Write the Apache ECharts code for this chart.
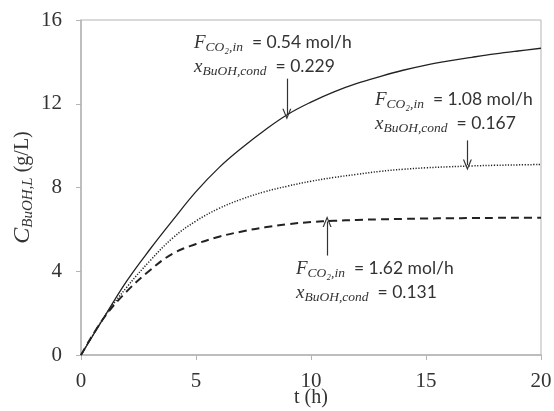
<!DOCTYPE html>
<html>
<head>
<meta charset="utf-8">
<script src="https://cdn.jsdelivr.net/npm/echarts@6/dist/echarts.min.js"></script>
<style>
  html, body { margin: 0; padding: 0; background: #fff; }
  #chart { width: 554px; height: 411px; }
</style>
</head>
<body>
<div id="chart"></div>
<script>
// time (h)
const hours = [0, 1, 2, 3, 4, 5, 6, 7, 8, 9, 10, 11, 12, 13, 14, 15, 16, 17, 18, 19, 20];
// C_BuOH,L (g/L) for each CO2 inlet flow
const conc054 = [0, 1.8, 3.55, 5.05, 6.45, 7.8, 8.95, 9.9, 10.75, 11.5, 12.08, 12.57, 12.97, 13.3, 13.6, 13.85, 14.05, 14.22, 14.38, 14.52, 14.65];
const conc108 = [0, 1.8, 3.25, 4.5, 5.6, 6.4, 7.0, 7.45, 7.8, 8.07, 8.3, 8.48, 8.63, 8.77, 8.87, 8.94, 8.99, 9.03, 9.06, 9.08, 9.1];
const conc162 = [0, 1.78, 3.05, 4.05, 4.85, 5.3, 5.65, 5.9, 6.1, 6.25, 6.35, 6.41, 6.45, 6.48, 6.5, 6.52, 6.53, 6.54, 6.55, 6.56, 6.56];
const xTicks = [0, 5, 10, 15, 20];
const yTicks = [0, 4, 8, 12, 16];
// annotation texts
const flowLabels = ["0.54 mol/h", "1.08 mol/h", "1.62 mol/h"];
const fracLabels = ["0.229", "0.167", "0.131"];
// arrows: [t, start, end]
const arrows = [
  [8.95, 13.2, 11.5],
  [16.8, 10.25, 9.07],
  [10.7, 4.75, 6.38]
];

const chart = echarts.init(document.getElementById("chart"));

const serif = "'Liberation Serif', 'Times New Roman', serif";
const sans = "Lato, 'Open Sans', sans-serif";
const axisGray = "#b4b4b4";
const ink = "#333";

// open V arrow head, tip at top
const arrowHead = "path://M0,10 L5,0 L10,10 L8.6,10 L5,2.8 L1.4,10 Z";

function toPairs(ys) {
  return hours.map((t, i) => [t, ys[i]]);
}

function arrowLine(a) {
  return [{ coord: [a[0], a[1]] }, { coord: [a[0], a[2]] }];
}

const mathRich = {
  m: { fontFamily: serif, fontStyle: "italic", fontSize: 19, color: ink, lineHeight: 24 },
  s: { fontFamily: serif, fontStyle: "italic", fontSize: 13.5, color: ink, lineHeight: 24, padding: [9, 0, 0, 0] },
  t: { fontFamily: sans, fontSize: 17.5, color: ink, lineHeight: 24 }
};

function noteText(x, y, i) {
  return {
    type: "text",
    left: x,
    top: y,
    silent: true,
    style: {
      text:
        "{m|F}{s|CO₂,in}{t|  = " + flowLabels[i] + "}\n" +
        "{m|x}{s|BuOH,cond}{t|  = " + fracLabels[i] + "}",
      rich: mathRich,
      fill: ink
    }
  };
}

const option = {
  animation: false,
  backgroundColor: "#fff",
  grid: {
    left: 81,
    right: 13,
    top: 20,
    bottom: 56,
    containLabel: false,
    outerBoundsMode: "none",
    show: true,
    borderColor: axisGray,
    borderWidth: 1
  },
  xAxis: {
    type: "value",
    min: 0,
    max: 20,
    interval: 5,
    name: "t (h)",
    nameLocation: "middle",
    nameGap: 33,
    nameMoveOverlap: false,
    nameTextStyle: { fontFamily: serif, fontSize: 20, color: ink },
    axisLine: { show: true, lineStyle: { color: axisGray, width: 1.5 } },
    axisTick: { show: true, length: 5, lineStyle: { color: axisGray } },
    splitLine: { show: false },
    axisLabel: {
      fontFamily: serif,
      fontSize: 21,
      color: ink,
      margin: 16,
      formatter: function (v) {
        return xTicks.indexOf(v) >= 0 ? String(v) : "";
      }
    }
  },
  yAxis: {
    type: "value",
    min: 0,
    max: 16,
    interval: 4,
    name: "{c|C}{s|BuOH,L}{u| (g/L)}",
    nameLocation: "middle",
    nameGap: 44,
    nameMoveOverlap: false,
    nameRotate: 90,
    nameTextStyle: {
      rich: {
        c: { fontFamily: serif, fontStyle: "italic", fontSize: 24, color: ink, lineHeight: 28 },
        s: { fontFamily: serif, fontStyle: "italic", fontSize: 15, color: ink, lineHeight: 28, padding: [10, 0, 0, 0] },
        u: { fontFamily: serif, fontSize: 20, color: ink, lineHeight: 28 }
      }
    },
    axisLine: { show: true, lineStyle: { color: axisGray, width: 1.5 } },
    axisTick: { show: true, length: 5, lineStyle: { color: axisGray } },
    splitLine: { show: false },
    axisLabel: {
      fontFamily: serif,
      fontSize: 21,
      color: ink,
      margin: 19,
      formatter: function (v) {
        return yTicks.indexOf(v) >= 0 ? String(v) : "";
      }
    }
  },
  series: [
    {
      name: "0.54",
      type: "line",
      data: toPairs(conc054),
      showSymbol: false,
      smooth: 0.4,
      lineStyle: { color: "#222", width: 1.3, type: "solid" },
      markLine: {
        silent: true,
        symbol: ["none", arrowHead],
        symbolSize: [9, 11],
        label: { show: false },
        lineStyle: { color: ink, width: 1.2, type: "solid" },
        data: [arrowLine(arrows[0])]
      }
    },
    {
      name: "1.08",
      type: "line",
      data: toPairs(conc108),
      showSymbol: false,
      smooth: 0.4,
      lineStyle: { color: "#222", width: 1.5, type: [1.2, 1.6] },
      markLine: {
        silent: true,
        symbol: ["none", arrowHead],
        symbolSize: [9, 11],
        label: { show: false },
        lineStyle: { color: ink, width: 1.2, type: "solid" },
        data: [arrowLine(arrows[1])]
      }
    },
    {
      name: "1.62",
      type: "line",
      data: toPairs(conc162),
      showSymbol: false,
      smooth: 0.4,
      lineStyle: { color: "#222", width: 2, type: [8, 5] },
      markLine: {
        silent: true,
        symbol: ["none", arrowHead],
        symbolSize: [9, 11],
        label: { show: false },
        lineStyle: { color: ink, width: 1.2, type: "solid" },
        data: [arrowLine(arrows[2])]
      }
    }
  ],
  graphic: [noteText(194, 31, 0), noteText(375, 88, 1), noteText(296, 257, 2)]
};

chart.setOption(option);
</script>
</body>
</html>
